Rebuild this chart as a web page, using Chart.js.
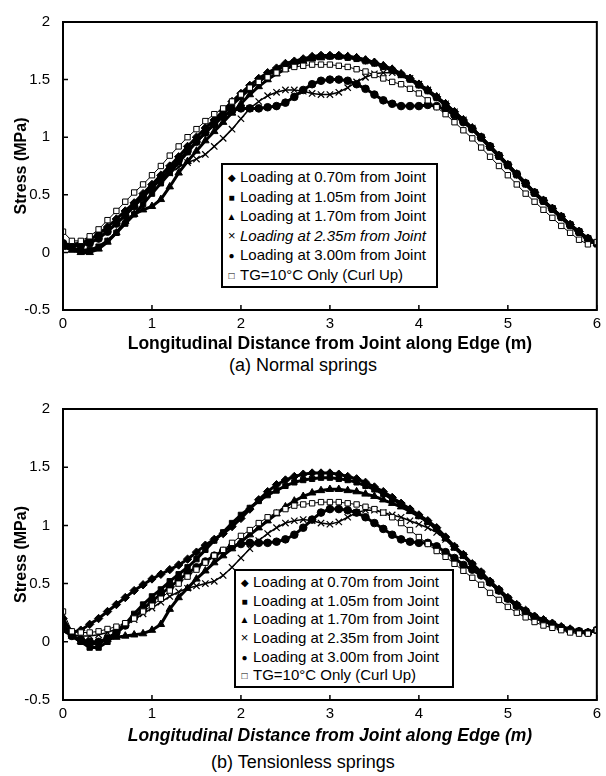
<!DOCTYPE html>
<html>
<head>
<meta charset="utf-8">
<script src="https://cdn.jsdelivr.net/npm/chart.js@4.4.1/dist/chart.umd.min.js"></script>
<style>
  body { margin: 0; background: #fff; font-family: "Liberation Sans", Arial, sans-serif; }
  #page { position: relative; width: 606px; height: 776px; overflow: hidden; }
  canvas { position: absolute; left: 0; }
  .legend { position: absolute; border: 2px solid #000; background: #fff; font-size: 15px; color: #000; box-sizing: border-box; }
  .legend div { white-space: nowrap; padding-left: 3px; }
  .legend span { display: inline-block; width: 11px; font-size: 10px; text-align: center; margin-right: 3px; vertical-align: 1px; }
  .caption { position: absolute; left: 0; width: 606px; text-align: center; font-size: 18px; color: #000; }
</style>
</head>
<body>
<div id="page">
  <canvas id="chartA" width="606" height="355" style="top:0"></canvas>
  <canvas id="chartB" width="606" height="360" style="top:387px"></canvas>
  <div class="caption" style="top:355px">(a) Normal springs</div>
  <div class="caption" style="top:752px">(b) Tensionless springs</div>
</div>
<script>
// x positions along the edge (m)
const distance = [0.0,0.1,0.2,0.3,0.4,0.5,0.6,0.7,0.8,0.9,
  1.0,1.1,1.2,1.3,1.4,1.5,1.6,1.7,1.8,1.9,
  2.0,2.1,2.2,2.3,2.4,2.5,2.6,2.7,2.8,2.9,
  3.0,3.1,3.2,3.3,3.4,3.5,3.6,3.7,3.8,3.9,
  4.0,4.1,4.2,4.3,4.4,4.5,4.6,4.7,4.8,4.9,
  5.0,5.1,5.2,5.3,5.4,5.5,5.6,5.7,5.8,5.9,6.0];

const seriesLabels = ['Loading at 0.70m from Joint', 'Loading at 1.05m from Joint', 'Loading at 1.70m from Joint',
  'Loading at 2.35m from Joint', 'Loading at 3.00m from Joint', 'TG=10°C Only (Curl Up)'];
const xTicks = [0, 1, 2, 3, 4, 5, 6];
const yTicks = [-0.5, 0, 0.5, 1, 1.5, 2];

// (a) Normal springs - stress (MPa)
const normal070 = [0.05,0.07,0.08,0.11,0.16,0.22,0.29,0.36,0.43,0.51,
  0.59,0.67,0.75,0.83,0.92,1.00,1.08,1.15,1.23,1.31,
  1.38,1.45,1.51,1.56,1.60,1.64,1.66,1.68,1.70,1.71,
  1.71,1.71,1.70,1.69,1.67,1.65,1.62,1.59,1.55,1.51,
  1.46,1.41,1.35,1.29,1.22,1.15,1.08,1.00,0.92,0.84,
  0.76,0.68,0.60,0.52,0.45,0.38,0.31,0.24,0.18,0.12,0.08];
const normal105 = [0.08,0.04,0.02,0.02,0.05,0.10,0.17,0.25,0.33,0.42,
  0.51,0.60,0.69,0.78,0.87,0.96,1.04,1.12,1.20,1.28,
  1.35,1.42,1.48,1.54,1.58,1.62,1.65,1.67,1.69,1.70,
  1.70,1.70,1.69,1.68,1.66,1.64,1.61,1.58,1.54,1.50,
  1.45,1.40,1.34,1.28,1.21,1.14,1.07,0.99,0.91,0.83,
  0.75,0.67,0.59,0.51,0.44,0.37,0.30,0.23,0.17,0.11,0.07];
const normal170 = [0.05,0.02,0.00,0.00,0.03,0.09,0.17,0.27,0.33,0.37,
  0.40,0.46,0.57,0.69,0.79,0.88,0.97,1.05,1.13,1.21,
  1.29,1.37,1.44,1.50,1.55,1.59,1.63,1.66,1.68,1.69,
  1.70,1.70,1.70,1.69,1.67,1.65,1.62,1.59,1.55,1.51,
  1.46,1.41,1.35,1.29,1.22,1.15,1.08,1.00,0.92,0.84,
  0.76,0.68,0.60,0.52,0.45,0.38,0.31,0.24,0.18,0.12,0.08];
const normal235 = [0.05,0.05,0.06,0.08,0.13,0.19,0.26,0.33,0.41,0.49,
  0.56,0.63,0.69,0.74,0.78,0.81,0.85,0.92,0.99,1.07,
  1.16,1.25,1.31,1.36,1.39,1.41,1.41,1.40,1.38,1.37,
  1.37,1.39,1.43,1.48,1.52,1.55,1.56,1.56,1.54,1.51,
  1.46,1.41,1.35,1.29,1.22,1.15,1.08,1.00,0.92,0.84,
  0.76,0.68,0.60,0.52,0.45,0.38,0.31,0.24,0.18,0.12,0.08];
const normal300 = [0.08,0.06,0.06,0.08,0.12,0.18,0.25,0.32,0.40,0.48,
  0.56,0.64,0.72,0.80,0.88,0.96,1.04,1.11,1.18,1.23,
  1.25,1.25,1.25,1.26,1.27,1.30,1.35,1.41,1.46,1.49,
  1.50,1.50,1.49,1.46,1.42,1.37,1.32,1.29,1.27,1.27,
  1.27,1.28,1.27,1.24,1.19,1.13,1.07,1.00,0.92,0.84,
  0.76,0.68,0.60,0.52,0.45,0.38,0.31,0.24,0.18,0.12,0.08];
const normalTG = [0.18,0.10,0.10,0.14,0.20,0.28,0.36,0.44,0.52,0.59,
  0.67,0.75,0.84,0.92,1.00,1.07,1.14,1.20,1.25,1.31,
  1.37,1.43,1.48,1.52,1.56,1.59,1.61,1.62,1.63,1.63,
  1.63,1.62,1.61,1.59,1.57,1.54,1.51,1.48,1.46,1.42,
  1.38,1.32,1.26,1.20,1.13,1.06,0.99,0.91,0.83,0.75,
  0.67,0.59,0.51,0.44,0.37,0.30,0.23,0.17,0.11,0.07,0.09];

// (b) Tensionless springs - stress (MPa)
const tension070 = [0.20,0.08,0.10,0.15,0.20,0.26,0.32,0.38,0.44,0.49,
  0.54,0.58,0.62,0.66,0.71,0.77,0.83,0.88,0.93,0.99,
  1.06,1.14,1.22,1.29,1.35,1.39,1.42,1.44,1.45,1.45,
  1.45,1.44,1.42,1.40,1.37,1.33,1.29,1.24,1.19,1.14,
  1.09,1.04,0.98,0.90,0.82,0.75,0.67,0.60,0.52,0.45,
  0.38,0.32,0.27,0.22,0.19,0.16,0.13,0.11,0.09,0.08,0.10];
const tension105 = [0.15,0.05,0.00,-0.05,-0.05,0.00,0.07,0.15,0.24,0.32,
  0.39,0.45,0.52,0.58,0.64,0.71,0.79,0.87,0.94,1.02,
  1.09,1.15,1.21,1.26,1.30,1.34,1.37,1.39,1.40,1.41,
  1.41,1.40,1.39,1.37,1.34,1.31,1.27,1.23,1.18,1.13,
  1.08,1.03,0.97,0.89,0.81,0.74,0.66,0.59,0.51,0.44,
  0.37,0.31,0.26,0.21,0.18,0.15,0.12,0.10,0.09,0.08,0.10];
const tension170 = [0.10,0.05,0.00,-0.02,-0.01,0.02,0.04,0.05,0.06,0.07,
  0.10,0.15,0.28,0.38,0.46,0.54,0.61,0.68,0.74,0.80,
  0.86,0.92,0.98,1.04,1.10,1.16,1.21,1.25,1.28,1.30,
  1.31,1.31,1.30,1.29,1.27,1.25,1.22,1.19,1.16,1.12,
  1.08,1.03,0.97,0.89,0.81,0.74,0.66,0.59,0.51,0.44,
  0.37,0.31,0.26,0.21,0.18,0.15,0.12,0.10,0.09,0.08,0.10];
const tension235 = [0.10,0.06,0.05,0.05,0.06,0.08,0.11,0.15,0.19,0.24,
  0.29,0.34,0.39,0.43,0.46,0.48,0.50,0.52,0.57,0.64,
  0.72,0.80,0.87,0.93,0.98,1.02,1.04,1.05,1.04,1.02,
  1.01,1.03,1.07,1.11,1.13,1.13,1.11,1.09,1.07,1.04,
  1.01,0.98,0.94,0.88,0.81,0.74,0.66,0.59,0.51,0.44,
  0.37,0.31,0.26,0.21,0.18,0.15,0.12,0.10,0.09,0.08,0.10];
const tension300 = [0.15,0.05,0.02,0.00,0.00,0.03,0.08,0.14,0.21,0.28,
  0.35,0.41,0.47,0.53,0.59,0.64,0.69,0.74,0.78,0.82,
  0.84,0.85,0.85,0.85,0.86,0.88,0.92,0.98,1.05,1.11,
  1.14,1.14,1.13,1.11,1.07,1.02,0.97,0.92,0.88,0.86,
  0.85,0.85,0.82,0.77,0.72,0.66,0.62,0.57,0.51,0.44,
  0.37,0.31,0.26,0.21,0.18,0.15,0.12,0.10,0.09,0.08,0.10];
const tensionTG = [0.26,0.09,0.08,0.08,0.09,0.11,0.13,0.16,0.20,0.26,
  0.31,0.37,0.44,0.50,0.56,0.62,0.68,0.74,0.79,0.85,
  0.91,0.96,1.02,1.07,1.11,1.14,1.17,1.18,1.19,1.20,
  1.20,1.20,1.19,1.18,1.16,1.14,1.11,1.07,1.02,0.96,
  0.90,0.84,0.78,0.73,0.67,0.61,0.55,0.49,0.42,0.36,
  0.30,0.25,0.21,0.17,0.14,0.12,0.10,0.08,0.07,0.07,0.10];

const FONT = '"Liberation Sans", Arial, sans-serif';

// marker style for each series, same order as seriesLabels
const markerStyles = [
  { pointStyle: 'rectRot', radius: 4.2, fill: '#000' },
  { pointStyle: 'rect', radius: 3.8, fill: '#000' },
  { pointStyle: 'triangle', radius: 4.3, fill: '#000' },
  { pointStyle: 'crossRot', radius: 4.5, fill: '#000' },
  { pointStyle: 'circle', radius: 3.8, fill: '#000' },
  { pointStyle: 'rect', radius: 3.8, fill: '#fff' }
];
const legendSymbols = ['\u25C6', '\u25A0', '\u25B2', '\u00D7', '\u25CF', '\u25A1'];

// frame around the plot and inward tick marks
const frameAndTicks = {
  id: 'frameAndTicks',
  afterDatasetsDraw(chart) {
    const { ctx, chartArea: a, scales: { x, y } } = chart;
    ctx.save();
    ctx.strokeStyle = '#000';
    ctx.lineWidth = 2;
    ctx.strokeRect(a.left, a.top, a.right - a.left, a.bottom - a.top);
    ctx.lineWidth = 1.5;
    ctx.beginPath();
    x.ticks.forEach((t, i) => {
      const px = x.getPixelForTick(i);
      ctx.moveTo(px, a.bottom);
      ctx.lineTo(px, a.bottom - 5);
    });
    y.ticks.forEach((t, i) => {
      const py = y.getPixelForTick(i);
      ctx.moveTo(a.left, py);
      ctx.lineTo(a.left + 5, py);
    });
    ctx.stroke();
    ctx.restore();
  }
};

function makeChart(canvasId, seriesList, xTitleItalic, xAxisHeight) {
  const datasets = seriesList.map((values, i) => {
    const m = markerStyles[i];
    return {
      label: seriesLabels[i],
      data: distance.map((d, k) => ({ x: d, y: values[k] })),
      showLine: true,
      borderColor: '#000',
      borderWidth: i === 5 ? 1 : (i === 3 ? 1.5 : 3),
      backgroundColor: m.fill,
      pointStyle: m.pointStyle,
      pointRadius: m.radius,
      pointBackgroundColor: m.fill,
      pointBorderColor: '#000',
      pointBorderWidth: i === 3 ? 1.2 : 1,
      tension: 0,
      order: i === 5 ? 0 : 1
    };
  });

  return new Chart(document.getElementById(canvasId), {
    type: 'line',
    data: { datasets: datasets },
    options: {
      responsive: false,
      animation: false,
      layout: { padding: { left: 0, right: 9, top: 16, bottom: 0 } },
      plugins: { legend: { display: false }, tooltip: { enabled: false } },
      scales: {
        x: {
          type: 'linear',
          min: 0,
          max: 6,
          afterBuildTicks: s => { s.ticks = xTicks.map(v => ({ value: v })); },
          afterFit: s => { s.height = xAxisHeight; },
          grid: { display: false, drawTicks: false },
          border: { display: false },
          ticks: { color: '#000', padding: 5, font: { family: FONT, size: 15 }, callback: v => String(v) },
          title: {
            display: true,
            text: 'Longitudinal Distance from Joint along Edge (m)',
            color: '#000',
            padding: 0,
            font: { family: FONT, size: 17.5, weight: 'bold', style: xTitleItalic ? 'italic' : 'normal' }
          }
        },
        y: {
          min: -0.5,
          max: 2,
          afterBuildTicks: s => { s.ticks = yTicks.map(v => ({ value: v })); },
          afterFit: s => { s.width = 63; },
          grid: { display: false, drawTicks: false },
          border: { display: false },
          ticks: { color: '#000', padding: 13, font: { family: FONT, size: 15 }, callback: v => String(v) },
          title: {
            display: true,
            text: 'Stress (MPa)',
            color: '#000',
            padding: { top: 12, bottom: 0 },
            font: { family: FONT, size: 16, weight: 'bold' }
          }
        }
      }
    },
    plugins: [frameAndTicks]
  });
}

// legend box laid over the plot
function makeLegend(left, top, width, height, rowHeight, italicRow) {
  const box = document.createElement('div');
  box.className = 'legend';
  box.style.left = left + 'px';
  box.style.top = top + 'px';
  box.style.width = width + 'px';
  box.style.height = height + 'px';
  box.style.paddingTop = '2px';
  seriesLabels.forEach((label, i) => {
    const row = document.createElement('div');
    row.style.height = rowHeight + 'px';
    row.style.lineHeight = rowHeight + 'px';
    if (i === italicRow) row.style.fontStyle = 'italic';
    const sym = document.createElement('span');
    sym.textContent = legendSymbols[i];
    if (i === 3) sym.style.fontSize = '13px';
    row.appendChild(sym);
    row.appendChild(document.createTextNode(label));
    box.appendChild(row);
  });
  document.getElementById('page').appendChild(box);
}

makeChart('chartA', [normal070, normal105, normal170, normal235, normal300, normalTG], false, 45);
makeChart('chartB', [tension070, tension105, tension170, tension235, tension300, tensionTG], true, 47);

makeLegend(221, 163, 217, 125, 19.5, 3);
makeLegend(234, 569, 220, 119, 18.7, -1);
</script>
</body>
</html>
